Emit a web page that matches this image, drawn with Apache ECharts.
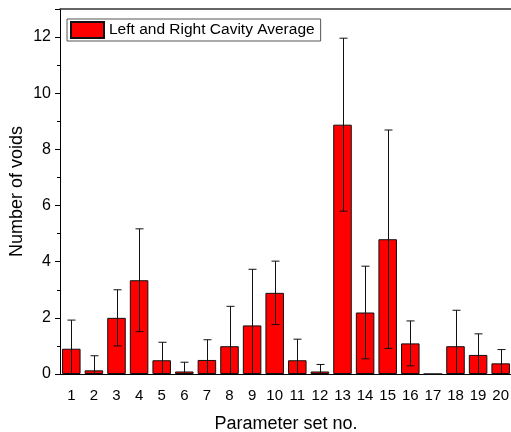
<!DOCTYPE html>
<html>
<head>
<meta charset="utf-8">
<script src="https://cdn.jsdelivr.net/npm/echarts@6/dist/echarts.min.js"></script>
<style>
html,body{margin:0;padding:0;background:#fff;}
#c{width:511px;height:432px;}
</style>
</head>
<body>
<div id="c"></div>
<script>
var categories = ['1','2','3','4','5','6','7','8','9','10','11','12','13','14','15','16','17','18','19','20'];
var values = [0.9, 0.13, 2.0, 3.34, 0.49, 0.09, 0.5, 0.99, 1.73, 2.89, 0.49, 0.09, 8.88, 2.19, 4.8, 1.09, 0, 0.99, 0.68, 0.38];
var errors = [1.02, 0.52, 1.0, 1.83, 0.64, 0.33, 0.72, 1.42, 2.0, 1.13, 0.75, 0.25, 3.08, 1.65, 3.89, 0.8, 0, 1.28, 0.75, 0.49];
var seriesName = 'Left and Right Cavity Average';

var errData = categories.map(function (c, i) { return [i, values[i], errors[i]]; });

var chart = echarts.init(document.getElementById('c'), null, {renderer: 'canvas'});
var font = 'Liberation Sans, Arial, sans-serif';
chart.setOption({
  animation: false,
  backgroundColor: '#fff',
  textStyle: {fontFamily: font},
  legend: {
    show: true,
    data: [{name: seriesName, icon: 'rect'}],
    left: 67, top: 19,
    itemWidth: 33, itemHeight: 16, itemGap: 5,
    padding: [2, 6, 2, 3],
    borderColor: '#555', borderWidth: 1,
    textStyle: {fontSize: 15.5, color: '#000', fontFamily: font}
  },
  grid: {left: 60, top: 9, width: 452, bottom: 58, containLabel: false, outerBoundsMode: 'none'},
  xAxis: [{
    type: 'category', data: categories, position: 'bottom',
    name: 'Parameter set no.', nameLocation: 'middle', nameGap: 41, nameMoveOverlap: false,
    nameTextStyle: {fontSize: 18, color: '#000', fontFamily: font},
    axisLine: {lineStyle: {color: '#000', width: 1}},
    axisTick: {alignWithLabel: true, length: 6, lineStyle: {color: '#000'}},
    axisLabel: {fontSize: 15, color: '#000', margin: 14, interval: 0, fontFamily: font},
    splitLine: {show: false}
  }, {
    type: 'category', data: categories, position: 'bottom',
    axisLine: {show: false},
    axisTick: {length: 3, lineStyle: {color: '#000'}},
    axisLabel: {show: false}
  }, {
    type: 'category', data: categories, position: 'top',
    axisLine: {show: true, lineStyle: {color: '#333', width: 1.5}},
    axisTick: {show: false}, axisLabel: {show: false}
  }],
  yAxis: {
    type: 'value', min: 0, max: 13, interval: 2,
    name: 'Number of voids', nameLocation: 'middle', nameGap: 34, nameMoveOverlap: false,
    nameTextStyle: {fontSize: 18, color: '#000', fontFamily: font},
    axisLine: {show: true, lineStyle: {color: '#000', width: 1}},
    axisTick: {show: true, length: 5, lineStyle: {color: '#000'}},
    minorTick: {show: true, splitNumber: 2, length: 3, lineStyle: {color: '#000'}},
    axisLabel: {fontSize: 16, color: '#000', margin: 9, fontFamily: font,
      formatter: function (v) { return v % 2 === 0 ? String(v) : ''; }},
    splitLine: {show: false}
  },
  series: [{
    name: seriesName, type: 'bar', data: values, barWidth: '82%',
    itemStyle: {color: '#ff0000', borderColor: '#111', borderWidth: 1}
  }, {
    type: 'custom', data: errData, z: 10, silent: true,
    renderItem: function (params, api) {
      var i = api.value(0), v = api.value(1), e = api.value(2);
      if (!e) return null;
      var hi = api.coord([i, v + e]);
      var lo = api.coord([i, Math.max(v - e, 0)]);
      var x = Math.round(hi[0]) + 0.5;
      var hw = 4;
      var children = [{type: 'line', shape: {x1: x, y1: hi[1], x2: x, y2: lo[1]}, style: {stroke: '#111', lineWidth: 1}},
        {type: 'line', shape: {x1: x - hw, y1: hi[1], x2: x + hw, y2: hi[1]}, style: {stroke: '#111', lineWidth: 1}}];
      if (v - e > 0) children.push({type: 'line', shape: {x1: x - hw, y1: lo[1], x2: x + hw, y2: lo[1]}, style: {stroke: '#111', lineWidth: 1}});
      return {type: 'group', children: children};
    }
  }]
});
</script>
</body>
</html>
